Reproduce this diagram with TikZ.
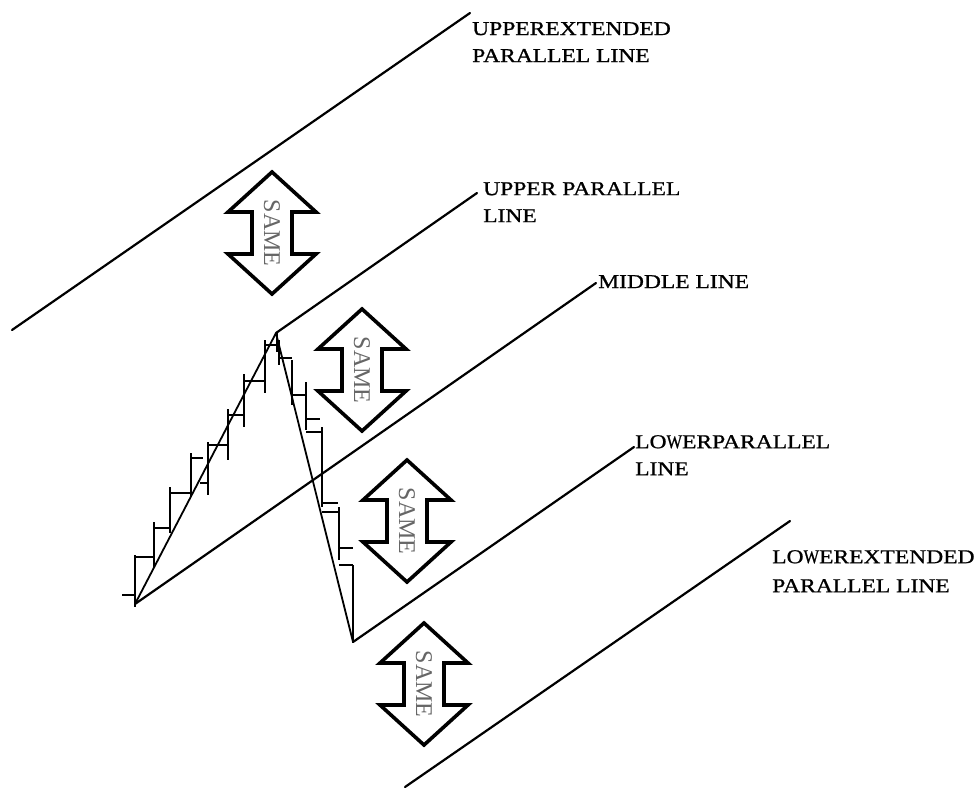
\documentclass[tikz,border=0pt]{standalone}
\usepackage{fontspec}
\usepackage{graphicx}
\setmainfont{Liberation Serif}
\newfontfamily\lblfont[FakeStretch=1.2,FakeBold=1]{Liberation Serif}
\newfontfamily\samefont{Liberation Serif}
\newcommand{\narrowW}{\scalebox{0.7}[1]{W}}
\begin{document}
\begin{tikzpicture}[x=1pt,y=-1pt,
  trend/.style={line width=2.2pt, line cap=round},
  zig/.style={line width=1.8pt, line join=round},
  barline/.style={line width=2.8pt},
  arrowbox/.style={draw=black, fill=white, line width=3.6pt, line join=miter},
  sametext/.style={rotate=-90, text=black!60, inner sep=0pt, font=\samefont\fontsize{24}{24}\selectfont},
  lbl/.style={anchor=north west, align=left, inner sep=0pt, font=\lblfont\fontsize{19.6}{27}\selectfont},
  samearrow/.pic={
    \draw[arrowbox] (0,-61) -- (44,-21) -- (20,-21) -- (20,21) -- (44,21) -- (0,61)
      -- (-44,21) -- (-20,21) -- (-20,-21) -- (-44,-21) -- cycle;
    \node[sametext] (-t) {SAME};
  }
]
\useasboundingbox (0,0) rectangle (979,790);

% key points
\coordinate (p0) at (135,604);
\coordinate (p1) at (276,333);
\coordinate (p2) at (353,642);
\coordinate (ueA) at (12,330);
\coordinate (ueB) at (470,13);
\coordinate (upB) at (477,193);
\coordinate (mdB) at (596,283);
\coordinate (lpB) at (634,447);
\coordinate (leA) at (405,787);
\coordinate (leB) at (790,521);

% channel lines
\draw[trend] (ueA) -- (ueB);
\draw[trend] (p1) -- (upB);
\draw[trend] (p0) -- (mdB);
\draw[trend] (p2) -- (lpB);
\draw[trend] (leA) -- (leB);

% zigzag
\draw[zig] (p0) -- (p1) -- (p2);

% price bars
\foreach \x/\a/\b in {135/555/607,154/522/568,170/487/533,191/453/497,208/442/495,
  228/409/460,244/374/427,265/340/393,277/333/352,279/340/365,292/360/405,
  306/382/430,322/427/507,339/507/560,353/565/643}
  \draw[barline] (\x,\a) -- (\x,\b);
\foreach \xa/\xb/\y in {122/135/595,135/155/557,154/170/528,170/192/493,191/203/458,
  200/208/483,208/227/445,228/243/415,244/264/381,265/277/345,278/292/358,
  292/305/395,306/320/419,306/322/432,322/338/503,322/338/512,339/353/548,339/353/565}
  \draw[barline] (\xa,\y) -- (\xb,\y);

% SAME arrows
\pic (a1) at (272,233) {samearrow};
\pic (a2) at (362,370) {samearrow};
\pic (a3) at (407,521) {samearrow};
\pic (a4) at (424,684) {samearrow};

% labels
\node[lbl] (l1) at (472,22) {UPPEREXTENDED\\PARALLEL LINE};
\node[lbl] (l2) at (483,182) {UPPER PARALLEL\\LINE};
\node[lbl] (l3) at (598,275) {MIDDLE LINE};
\node[lbl] (l4) at (635,435) {LO\narrowW ERPARALLEL\\LINE};
\node[lbl] (l5) at (772,550) {LO\narrowW EREXTENDED\\[2pt]PARALLEL LINE};
\end{tikzpicture}
\end{document}
